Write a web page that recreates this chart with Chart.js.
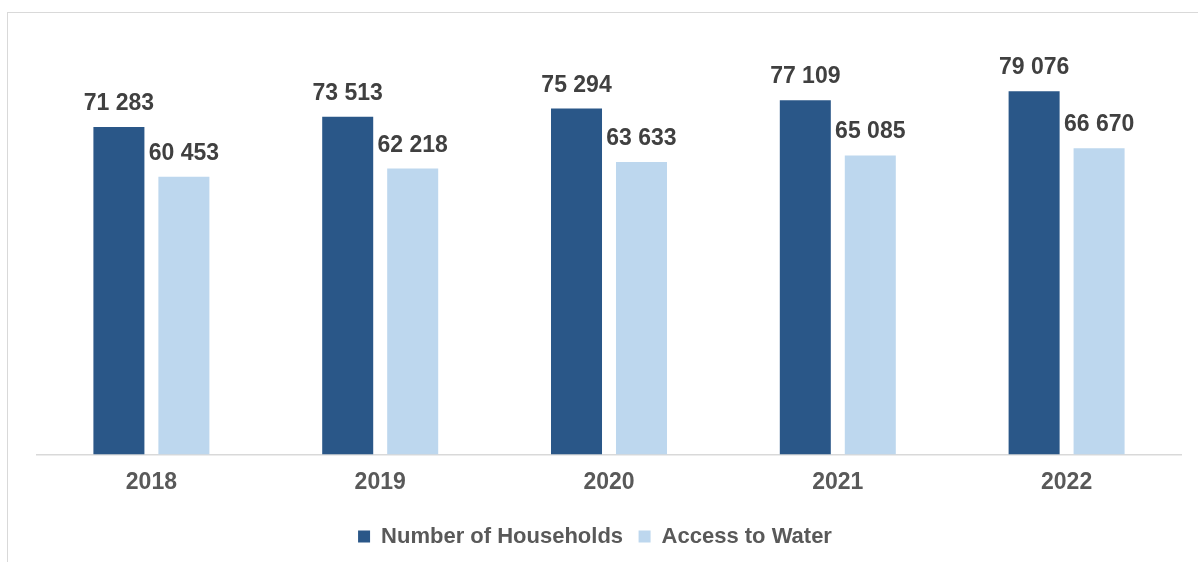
<!DOCTYPE html>
<html>
<head>
<meta charset="utf-8">
<script src="https://cdn.jsdelivr.net/npm/chart.js@4/dist/chart.umd.min.js"></script>
<style>
  html, body { margin: 0; padding: 0; background: #fff; }
  #wrap { position: relative; width: 1198px; height: 562px; }
  #frame { position: absolute; left: 7px; top: 12px; right: 0; bottom: 0; border-left: 1px solid #d9d9d9; border-top: 1px solid #d9d9d9; }
  canvas { position: absolute; left: 0; top: 0; }
</style>
</head>
<body>
<div id="wrap">
  <div id="frame"></div>
  <canvas id="waterChart" width="1198" height="562"></canvas>
</div>
<script>
const years = ['2018', '2019', '2020', '2021', '2022'];
const households = [71283, 73513, 75294, 77109, 79076];
const waterAccess = [60453, 62218, 63633, 65085, 66670];

const fmt = (v) => String(v).replace(/\B(?=(\d{3})+(?!\d))/g, ' ');

// value labels above the bars
const valueLabels = {
  id: 'valueLabels',
  afterDatasetsDraw(chart) {
    const ctx = chart.ctx;
    ctx.save();
    ctx.font = 'bold 23px "Liberation Sans", Arial, sans-serif';
    ctx.fillStyle = '#404040';
    ctx.textAlign = 'center';
    ctx.textBaseline = 'alphabetic';
    chart.data.datasets.forEach((ds, i) => {
      chart.getDatasetMeta(i).data.forEach((bar, j) => {
        ctx.fillText(fmt(ds.data[j]), bar.x, bar.y - 17);
      });
    });
    ctx.restore();
  }
};

// legend sits a bit left of the plot centre in the original
const legendShift = {
  id: 'legendShift',
  afterLayout(chart) {
    if (chart.legend) {
      chart.legend.left -= 14;
      chart.legend.right -= 14;
    }
  }
};

const ctx = document.getElementById('waterChart').getContext('2d');
new Chart(ctx, {
  type: 'bar',
  data: {
    labels: years,
    datasets: [
      {
        label: 'Number of Households',
        data: households,
        backgroundColor: '#2A5788',
        categoryPercentage: 0.568,
        barPercentage: 0.785
      },
      {
        label: 'Access to Water',
        data: waterAccess,
        backgroundColor: '#BDD7EE',
        categoryPercentage: 0.568,
        barPercentage: 0.785
      }
    ]
  },
  options: {
    responsive: false,
    animation: false,
    layout: { padding: { left: 37, right: 17, top: 41, bottom: 4.5 } },
    scales: {
      x: {
        grid: { display: false, drawTicks: false },
        border: { display: true, color: '#d9d9d9', width: 1.5 },
        ticks: {
          color: '#595959',
          padding: 14,
          font: { family: '"Liberation Sans", Arial, sans-serif', size: 23, weight: 'bold' }
        }
      },
      y: {
        display: false,
        min: 0,
        max: 90000
      }
    },
    plugins: {
      legend: {
        position: 'bottom',
        labels: {
          boxWidth: 12,
          boxHeight: 12,
          padding: 15.5,
          color: '#595959',
          font: { family: '"Liberation Sans", Arial, sans-serif', size: 22, weight: 'bold' }
        }
      },
      tooltip: { enabled: false }
    }
  },
  plugins: [valueLabels, legendShift]
});
</script>
</body>
</html>
